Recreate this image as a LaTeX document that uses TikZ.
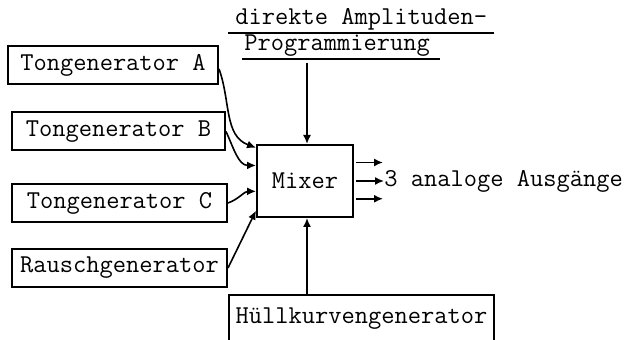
\documentclass[tikz,border=0pt]{standalone}
\usepackage{fontspec}
\usetikzlibrary{arrows.meta,positioning,calc}
\newcommand{\tyfont}{\ttfamily\fontsize{12.86}{14}\selectfont}
\tikzset{
  >={Latex[length=4.5pt,width=4pt]},
  genbox/.style={draw,line width=1pt,minimum height=19pt,inner xsep=2pt,inner ysep=0pt,font=\tyfont},
  mixbox/.style={draw,line width=1pt,minimum width=48pt,minimum height=36pt,font=\tyfont},
  lbl/.style={inner xsep=3.5pt,inner ysep=0pt,minimum height=10pt,font=\tyfont},
  wire/.style={->,line width=0.8pt}
}
\begin{document}
\begin{tikzpicture}[x=0.5pt,y=-0.5pt]
\useasboundingbox (0,0) rectangle (630,340);
\clip (0,0) rectangle (630,340);
% generators
\node[genbox,minimum width=105pt](genA) at (113,65){Tongenerator A};
\node[genbox,minimum width=106.5pt](genB) at (118.5,131.5){Tongenerator B};
\node[genbox,minimum width=107.5pt](genC) at (119.5,203){Tongenerator C};
\node[genbox,minimum width=107.5pt](rausch) at (119.5,268){Rauschgenerator};
\node[mixbox](mixer) at (305,181){Mixer};
\node[genbox,minimum width=132.5pt,minimum height=24pt](huell) at (361.5,319){H\"ullkurvengenerator};
% direct amplitude programming
\node[lbl,anchor=west](amp1) at (228,19){direkte Amplituden-};
\node[lbl,anchor=west](amp2) at (237,46){Programmierung};
\draw[line width=0.8pt]($(amp1.south west)+(0,3)$)--($(amp1.south east)+(0,3)$);
\draw[line width=0.8pt]($(amp2.south west)+(5,2)$)--($(amp2.south east)+(3,2)$);
\coordinate (ampin) at (307,63);
\node[lbl,anchor=west,inner xsep=0pt](out) at (384,181){3 analoge Ausg\"ange};
% connections
\draw[wire](genA.east)+(0,4) to[out=-70,in=160] ($(mixer.north west)!0.05!(mixer.south west)$);
\draw[wire](genB.east) to[out=-65,in=180] ($(mixer.north west)!0.29!(mixer.south west)$);
\draw[wire](genC.east) to[out=20,in=180] ($(mixer.north west)!0.64!(mixer.south west)$);
\draw[wire](rausch.east) -- ($(mixer.north west)!0.9!(mixer.south west)$);
\draw[wire](ampin) -- (ampin |- mixer.north);
\draw[wire](huell.north -| ampin) -- (ampin |- mixer.south);
\draw[wire]($(mixer.north east)!0.25!(mixer.south east)+(2,0)$) -- ++(27,0);
\draw[wire]($(mixer.north east)!0.5!(mixer.south east)+(2,0)$) -- (out.west);
\draw[wire]($(mixer.north east)!0.74!(mixer.south east)+(2,0)$) -- ++(27,0);
\end{tikzpicture}
\end{document}
